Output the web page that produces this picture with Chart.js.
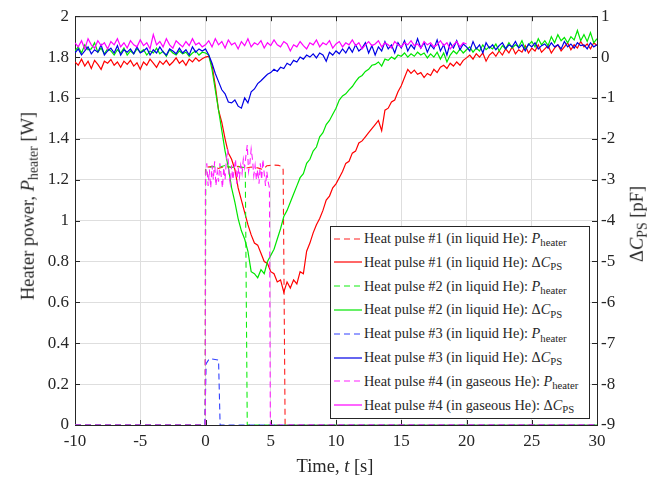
<!DOCTYPE html>
<html>
<head>
<meta charset="utf-8">
<script src="https://cdn.jsdelivr.net/npm/chart.js@4.4.1/dist/chart.umd.min.js"></script>
<style>
  body { margin: 0; background: #fff; }
  #wrap {
    position: relative; width: 659px; height: 480px;
    font-family: "Liberation Serif", "Times New Roman", serif; color: #262626;
  }
  #chart { position: absolute; left: 0; top: 0; }
  .ttl { position: absolute; font-size: 18.5px; line-height: 1; white-space: nowrap; }
  .ttl sub, #legend sub {
    font-size: 0.75em; position: relative; top: 0.32em;
    vertical-align: baseline; line-height: 0;
  }
  #legend {
    position: absolute; left: 330px; top: 226px; width: 260px; height: 193px;
    box-sizing: border-box; border: 1px solid #262626; background: #fff; font-size: 14.3px;
  }
  .row { position: absolute; left: 2px; height: 24px; display: flex; align-items: center; white-space: nowrap; }
  .row svg { margin-right: 1px; }
</style>
</head>
<body>
<div id="wrap">
  <canvas id="chart" width="659" height="480"></canvas>
  <div class="ttl" style="left:28px;top:206px;transform:translate(-50%,-50%) rotate(-90deg)">Heater power, <i>P</i><sub>heater</sub> [W]</div>
  <div class="ttl" style="left:637px;top:224px;transform:translate(-50%,-50%) rotate(-90deg)">&Delta;<i>C</i><sub>PS</sub> [pF]</div>
  <div class="ttl" style="left:335px;top:466px;transform:translate(-50%,-50%)">Time, <i>t</i> [s]</div>
  <div id="legend"></div>
</div>
<script>
// sample grid of the capacitance recordings: -10 s .. 30 s every 0.25 s
const sampleTimes = Array.from({ length: 161 }, (_, i) => -10 + i * 0.25);

// ΔC_PS [pF], one value per sample time
const dc1 = [
  -0.12,-0.2,-0.05,-0.22,-0.1,-0.28,-0.08,-0.18,-0.3,-0.1,
  -0.15,-0.06,-0.2,-0.12,-0.25,-0.1,-0.18,-0.08,-0.22,-0.14,
  -0.3,-0.12,-0.2,-0.05,-0.15,-0.25,-0.1,-0.18,-0.08,-0.2,
  -0.12,-0.02,-0.15,-0.08,-0.2,-0.05,-0.12,-0.02,-0.1,-0.04,
  0,0.02,-0.2,-0.7,-1.3,-1.6,-2.0,-2.35,-2.5,-2.75,
  -3.2,-3.5,-3.8,-4.1,-4.35,-4.55,-4.6,-4.8,-5.0,-5.05,
  -5.25,-5.3,-5.5,-5.45,-5.75,-5.5,-5.65,-5.45,-5.55,-5.25,
  -5.3,-4.75,-4.55,-4.3,-4.1,-3.95,-3.75,-3.5,-3.4,-3.2,
  -3.1,-2.95,-2.8,-2.6,-2.55,-2.35,-2.3,-2.1,-2.05,-1.95,
  -1.85,-1.75,-1.65,-1.55,-1.8,-1.3,-1.25,-1.1,-1.05,-0.85,
  -0.7,-0.5,-0.3,-0.4,-0.32,-0.42,-0.38,-0.5,-0.4,-0.45,
  -0.3,-0.38,-0.25,-0.2,-0.28,-0.15,-0.22,-0.12,-0.2,-0.08,
  -0.02,0.05,-0.05,0.08,0,0.1,-0.1,0.05,0.12,0.02,
  0.15,0.05,0.2,0.1,0.25,0.08,0.18,0.12,0.28,0.1,
  0.22,0.15,0.3,0.12,0.2,0.28,0.1,0.22,0.3,0.15,
  0.25,0.35,0.18,0.3,0.22,0.38,0.25,0.32,0.2,0.35,
  0.28
];
const dc2 = [
  0.15,0.25,0.1,0.3,0.18,0.2,0.35,0.12,0.22,0.08,
  0.2,0.15,0.05,0.18,0.1,0.22,0.05,0.15,0.08,0.2,
  0.12,0.18,0.05,0.15,0.1,0.22,0.08,0.14,0.02,0.18,
  0.1,0.05,0.15,0.08,0.12,0.02,0.1,0.15,0.05,0.12,
  0.1,0.05,-0.3,-0.8,-1.3,-1.8,-2.3,-2.7,-3.2,-3.55,
  -3.95,-4.25,-4.45,-4.75,-5.25,-5.3,-5.4,-5.2,-5.3,-5.0,
  -4.85,-4.7,-4.45,-4.2,-3.9,-3.75,-3.55,-3.35,-3.15,-2.95,
  -2.85,-2.6,-2.5,-2.3,-2.2,-1.95,-1.85,-1.65,-1.55,-1.4,
  -1.25,-1.05,-0.95,-0.9,-0.8,-0.72,-0.6,-0.5,-0.45,-0.35,
  -0.3,-0.2,-0.18,-0.12,-0.22,-0.05,-0.08,0,-0.05,0.05,
  0.02,0.1,0,0.08,0.02,0.12,0.05,0.1,-0.02,0.08,
  0,0.12,-0.05,0.1,-0.12,0.05,0.15,0.08,0.2,0.1,
  0.18,0.25,0.12,0.22,0.15,0.3,0.18,0.25,0.2,0.32,
  0.15,0.28,0.2,0.35,0.22,0.3,0.25,0.4,0.2,0.3,
  0.38,0.25,0.45,0.3,0.4,0.28,0.5,0.35,0.55,0.4,
  0.48,0.35,0.5,0.42,0.65,0.4,0.55,0.38,0.6,0.35,
  0.45
];
const dc3 = [
  0.1,0.2,0.05,0.15,0.25,0.08,0.18,0.12,0.3,0.05,
  0.15,0.22,0.1,0.28,0.05,0.18,0.12,0.2,0.08,0.25,
  0.1,0.15,0.22,0.05,0.18,0.1,0.25,0.12,0.05,0.2,
  0.15,0.08,0.22,0.1,0.18,0.05,0.25,0.12,0.2,0.15,
  0.2,0.05,-0.15,-0.4,-0.6,-0.8,-0.9,-1.1,-1.12,-1.05,
  -1.2,-1.25,-1.0,-1.12,-0.85,-0.78,-0.65,-0.58,-0.5,-0.42,
  -0.38,-0.3,-0.35,-0.25,-0.28,-0.15,-0.2,-0.08,-0.12,0,
  -0.05,0.05,0,0.08,-0.02,0.1,0.05,-0.1,0.12,0.05,
  0.15,0.08,0.2,0.1,0.25,0.12,0.3,0.15,0.22,0.35,
  0.1,0.28,0.05,0.25,0.15,0.38,0.2,0.3,0.1,0.35,
  0.22,0.4,0.15,0.3,0.2,0.45,0.22,0.35,0.12,0.3,
  0.2,0.42,0.15,0.3,0.05,0.35,0.22,0.4,0.18,0.32,
  0.25,0.15,0.38,0.2,0.3,0.1,0.35,0.22,0.3,0.18,
  0.28,0.35,0.2,0.3,0.25,0.38,0.22,0.3,0.15,0.32,
  0.25,0.35,0.2,0.28,0.32,0.22,0.35,0.25,0.3,0.2,
  0.38,0.25,0.32,0.22,0.35,0.28,0.3,0.2,0.35,0.25,
  0.3
];
const dc4 = [
  0.35,0.25,0.4,0.2,0.45,0.3,0.22,0.4,0.28,0.35,
  0.2,0.38,0.3,0.45,0.25,0.35,0.22,0.4,0.3,0.25,
  0.42,0.28,0.35,0.2,0.55,0.3,0.38,0.25,0.45,0.3,
  0.22,0.4,0.32,0.25,0.38,0.28,0.45,0.3,0.35,0.25,
  0.3,0.4,0.25,0.45,0.3,0.38,0.22,0.42,0.3,0.35,
  0.2,0.38,0.28,0.45,0.25,0.35,0.3,0.4,0.22,0.35,
  0.28,0.42,0.3,0.25,0.38,0.32,0.15,0.3,0.25,0.38,
  0.28,0.2,0.35,0.3,0.42,0.25,0.35,0.3,0.4,0.22,
  0.32,0.38,0.25,0.35,0.3,0.42,0.28,0.35,0.2,0.3,
  0.38,0.28,0.32,0.4,0.25,0.35,0.3,0.22,0.38,0.3,
  0.25,0.35,0.3,0.4,0.28,0.32,0.22,0.38,0.3,0.35,
  0.25,0.3,0.4,0.28,0.35,0.2,0.3,0.38,0.25,0.35,
  0.32
];

// heater power [W] as (time, power) pairs
const p1Time  = [-10, -0.02, 0, 0.5, 1, 1.5, 2, 2.5, 3, 3.5, 4, 4.4, 4.7, 5.2, 5.6, 5.85, 5.95, 6.1, 30];
const p1Power = [0, 0, 1.26, 1.265, 1.255, 1.265, 1.26, 1.265, 1.255, 1.262, 1.258, 1.25, 1.268, 1.272, 1.27, 1.265, 1.25, 0, 0];
const p2Time  = [-10, -0.02, 0.02, 0.5, 1, 1.5, 2, 2.5, 2.95, 3.05, 3.2, 30];
const p2Power = [0, 0, 1.25, 1.265, 1.26, 1.27, 1.26, 1.265, 1.26, 1.24, 0, 0];
const p3Time  = [-10, -0.05, 0.05, 0.3, 1.0, 1.12, 30];
const p3Power = [0, 0, 0.3, 0.325, 0.318, 0, 0];
const p4Time  = [-10, -0.02,
  0, 0.1, 0.2, 0.3, 0.4, 0.5, 0.6, 0.7, 0.8, 0.9,
  1, 1.1, 1.2, 1.3, 1.4, 1.5, 1.6, 1.7, 1.8, 1.9,
  2, 2.1, 2.2, 2.3, 2.4, 2.5, 2.6, 2.7, 2.8, 2.9,
  3, 3.1, 3.2, 3.3, 3.4, 3.5, 3.6, 3.7, 3.8, 3.9,
  4, 4.1, 4.2, 4.3, 4.4, 4.5, 4.6, 4.7, 4.8, 4.9,
  4.97, 30];
const p4Power = [0, 0,
  1.22, 1.28, 1.17, 1.25, 1.16, 1.27, 1.2, 1.29, 1.17, 1.24,
  1.19, 1.28, 1.22, 1.16, 1.26, 1.2, 1.3, 1.35, 1.22, 1.18,
  1.27, 1.2, 1.25, 1.3, 1.18, 1.26, 1.21, 1.27, 1.23, 1.3,
  1.26, 1.32, 1.37, 1.24, 1.28, 1.35, 1.3, 1.22, 1.27, 1.2,
  1.25, 1.18, 1.28, 1.2, 1.3, 1.23, 1.17, 1.24, 1.19, 1.16,
  0, 0];

const pulseNames = [
  "Heat pulse #1 (in liquid He): ",
  "Heat pulse #2 (in liquid He): ",
  "Heat pulse #3 (in liquid He): ",
  "Heat pulse #4 (in gaseous He): ",
];
const powerColors = ["#ff2020", "#10ee10", "#3040ff", "#ff20ff"];
const capColors = ["#ff0000", "#00e600", "#0000e6", "#ff00ff"];

const DASH = [6, 4];
const zip = (xs, ys) => xs.map((x, i) => ({ x, y: ys[i] }));

const powerSets = [[p1Time, p1Power], [p2Time, p2Power], [p3Time, p3Power], [p4Time, p4Power]];
const capSets = [dc1, dc2, dc3, dc4];

const datasets = [];
pulseNames.forEach((name, k) => {
  datasets.push({
    label: name + "P_heater",
    data: zip(powerSets[k][0], powerSets[k][1]),
    yAxisID: "y",
    borderColor: powerColors[k],
    borderDash: DASH,
    borderWidth: 1.1,
  });
  datasets.push({
    label: name + "ΔC_PS",
    data: zip(sampleTimes, capSets[k]),
    yAxisID: "yc",
    borderColor: capColors[k],
    borderWidth: 1.2,
  });
});
// later series are drawn on top, like the original plot
datasets.forEach((d, i) => {
  d.order = datasets.length - i;
  d.pointRadius = 0;
  d.tension = 0;
  d.fill = false;
});

// legend rows built as html so the P_heater / ΔC_PS labels keep their sub/italics
const legend = document.getElementById("legend");
datasets.forEach((d, i) => {
  const k = Math.floor(i / 2);
  const row = document.createElement("div");
  row.className = "row";
  row.style.top = (i * 23.8 - 0.5) + "px";
  const dash = d.borderDash ? ' stroke-dasharray="6 4"' : "";
  const sym = i % 2 === 0 ? "<i>P</i><sub>heater</sub>" : "&Delta;<i>C</i><sub>PS</sub>";
  row.innerHTML =
    `<svg width="30" height="4"><line x1="1" y1="2" x2="29" y2="2" stroke="${d.borderColor}" stroke-width="1.2"${dash}/></svg>` +
    `<span>${pulseNames[k].replace(/ /g, "&nbsp;")}${sym}</span>`;
  legend.appendChild(row);
});

const AXIS = "#262626";
Chart.defaults.font.family = "'Liberation Serif', 'Times New Roman', serif";
Chart.defaults.font.size = 17;
Chart.defaults.color = AXIS;

// box on top edge + inward tick marks on all four sides
const axesBox = {
  id: "axesBox",
  beforeDatasetsDraw(chart) {
    const { ctx, chartArea: a, scales } = chart;
    const L = 5;
    ctx.save();
    ctx.strokeStyle = AXIS;
    ctx.lineWidth = 1;
    ctx.beginPath();
    ctx.moveTo(a.left, a.top + 0.5);
    ctx.lineTo(a.right, a.top + 0.5);
    scales.x.ticks.forEach((t) => {
      const px = Math.round(scales.x.getPixelForValue(t.value)) + 0.5;
      ctx.moveTo(px, a.bottom); ctx.lineTo(px, a.bottom - L);
      ctx.moveTo(px, a.top); ctx.lineTo(px, a.top + L);
    });
    scales.y.ticks.forEach((t) => {
      const py = Math.round(scales.y.getPixelForValue(t.value)) + 0.5;
      ctx.moveTo(a.left, py); ctx.lineTo(a.left + L, py);
    });
    scales.yc.ticks.forEach((t) => {
      const py = Math.round(scales.yc.getPixelForValue(t.value)) + 0.5;
      ctx.moveTo(a.right, py); ctx.lineTo(a.right - L, py);
    });
    ctx.stroke();
    ctx.restore();
  },
};

new Chart(document.getElementById("chart").getContext("2d"), {
  type: "line",
  data: { datasets },
  plugins: [axesBox],
  options: {
    responsive: false,
    animation: false,
    devicePixelRatio: 1,
    events: [],
    layout: { padding: { top: 14, left: 0, right: 0, bottom: 0 } },
    plugins: { legend: { display: false }, tooltip: { enabled: false } },
    scales: {
      x: {
        type: "linear",
        min: -10,
        max: 30,
        ticks: { stepSize: 5, color: AXIS, padding: 6, maxRotation: 0 },
        grid: { color: "#dedede", drawTicks: false },
        border: { color: AXIS, width: 1 },
        afterFit: (s) => { s.height = 55; },
      },
      y: {
        type: "linear",
        position: "left",
        min: 0,
        max: 2,
        ticks: {
          stepSize: 0.2,
          color: AXIS,
          padding: 6,
          callback: (v) => String(+v.toFixed(1)),
        },
        grid: { color: "#dedede", drawTicks: false },
        border: { color: AXIS, width: 1 },
        afterFit: (s) => { s.width = 75; },
      },
      yc: {
        type: "linear",
        position: "right",
        min: -9,
        max: 1,
        ticks: { stepSize: 1, color: AXIS, padding: 4 },
        grid: { drawOnChartArea: false, drawTicks: false },
        border: { color: AXIS, width: 1 },
        afterFit: (s) => { s.width = 62; },
      },
    },
  },
});
</script>
</body>
</html>
